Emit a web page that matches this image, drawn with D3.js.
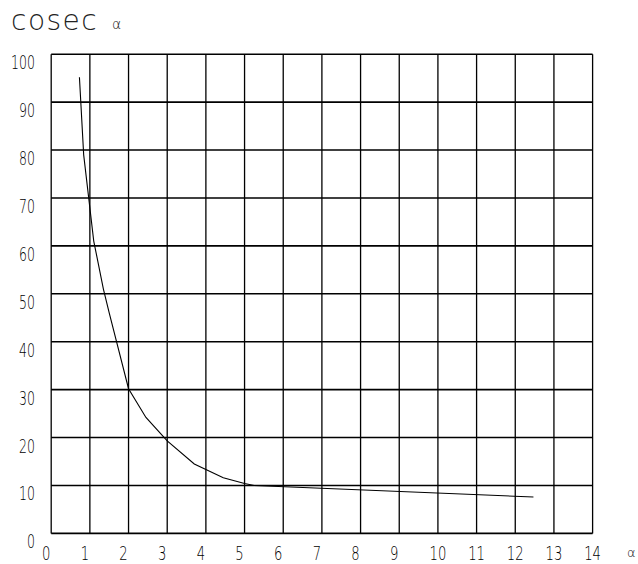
<!DOCTYPE html>
<html>
<head>
<meta charset="utf-8">
<script src="https://cdn.jsdelivr.net/npm/d3@7"></script>
<style>
html,body{margin:0;padding:0;background:#fff;}
svg{display:block;}
.tick-label{font-family:"DejaVu Sans",sans-serif;font-weight:300;fill:#000;}
</style>
</head>
<body>
<script>
const xValues = [0.73, 0.84, 1.1, 1.35, 1.5, 2.0, 2.45, 3.0, 3.7, 4.45, 5.0, 5.25, 12.47];
const yValues = [95.2, 79.0, 61.0, 51.0, 46.0, 30.2, 24.2, 19.3, 14.5, 11.6, 10.4, 10.0, 7.6];
const xTicks = [0,1,2,3,4,5,6,7,8,9,10,11,12,13,14];
const yTicks = [0,10,20,30,40,50,60,70,80,90,100];
const titleText = "cosec";
const symbolText = "α";

const W = 638, H = 564;
const svg = d3.select("body").append("svg").attr("width", W).attr("height", H);

const x = d3.scaleLinear().domain([0, 14]).range([51.2, 592.6]);
const y = d3.scaleLinear().domain([0, 100]).range([533.4, 54.2]);

// grid
const g = svg.append("g");
g.selectAll("line.v").data(xTicks).join("line")
  .attr("x1", d => x(d)).attr("x2", d => x(d))
  .attr("y1", y(0)).attr("y2", y(100))
  .attr("stroke", "#000").attr("stroke-width", 1.3);
g.selectAll("line.h").data(yTicks).join("line")
  .attr("y1", d => y(d)).attr("y2", d => y(d))
  .attr("x1", x(0)).attr("x2", x(14))
  .attr("stroke", "#000").attr("stroke-width", 1.6);

// curve
const pts = xValues.map((v, i) => [v, yValues[i]]);
svg.append("path")
  .attr("d", d3.line().x(d => x(d[0])).y(d => y(d[1]))(pts))
  .attr("fill", "none").attr("stroke", "#000").attr("stroke-width", 1.1);

const sx = 0.66;
// y tick labels
svg.selectAll("text.yl").data(yTicks).join("text")
  .attr("class", "tick-label")
  .attr("transform", d => `translate(35,${y(d) + 15}) scale(${sx},1)`)
  .attr("text-anchor", "end")
  .attr("font-size", 19)
  .text(d => d);

// x tick labels
svg.selectAll("text.xl").data(xTicks).join("text")
  .attr("class", "tick-label")
  .attr("transform", d => `translate(${d < 10 ? x(d) - 5 : x(d)},560) scale(${sx},1)`)
  .attr("text-anchor", "middle")
  .attr("font-size", 20)
  .text(d => d);

// title
svg.append("text")
  .attr("x", 11).attr("y", 30)
  .attr("font-family", "'DejaVu Sans', sans-serif")
  .attr("font-weight", 200)
  .attr("font-size", 28)
  .attr("letter-spacing", 1.5)
  .attr("fill", "#222")
  .text(titleText);
svg.append("text")
  .attr("x", 112).attr("y", 29)
  .attr("font-family", "'DejaVu Sans', sans-serif")
  .attr("font-weight", 300)
  .attr("font-size", 14)
  .attr("fill", "#222")
  .text(symbolText);

// x axis symbol
svg.append("text")
  .attr("x", 627).attr("y", 557)
  .attr("font-family", "'DejaVu Sans', sans-serif")
  .attr("font-weight", 300)
  .attr("font-size", 13)
  .attr("fill", "#222")
  .text(symbolText);
</script>
</body>
</html>
